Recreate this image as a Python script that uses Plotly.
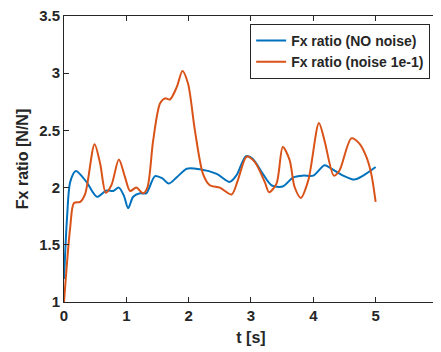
import plotly.graph_objects as go

t_blue = [0.0, 0.05, 0.1, 0.19, 0.36, 0.53, 0.68, 0.79, 0.88, 0.96, 1.03, 1.11, 1.22, 1.32, 1.46, 1.58, 1.68, 1.81, 1.97, 2.18, 2.45, 2.66, 2.77, 2.92, 3.03, 3.19, 3.33, 3.51, 3.68, 3.84, 4.0, 4.18, 4.29, 4.48, 4.66, 4.8, 5.0]
y_blue = [1.2, 1.75, 2.05, 2.145, 2.05, 1.92, 1.975, 1.97, 2.0, 1.93, 1.82, 1.92, 1.95, 1.95, 2.1, 2.08, 2.035, 2.09, 2.165, 2.16, 2.12, 2.05, 2.11, 2.275, 2.25, 2.12, 2.02, 2.01, 2.09, 2.105, 2.105, 2.195, 2.165, 2.105, 2.07, 2.105, 2.18]

t_orange = [0.0, 0.1, 0.16, 0.26, 0.34, 0.49, 0.58, 0.67, 0.76, 0.88, 0.98, 1.06, 1.16, 1.27, 1.34, 1.43, 1.54, 1.62, 1.7, 1.81, 1.9, 1.99, 2.1, 2.23, 2.34, 2.5, 2.69, 2.79, 2.93, 3.06, 3.22, 3.29, 3.41, 3.51, 3.62, 3.7, 3.8, 3.92, 4.09, 4.18, 4.33, 4.42, 4.61, 4.74, 4.85, 4.93, 5.0]
y_orange = [1.0, 1.655, 1.865, 1.875, 1.945, 2.38, 2.21, 1.955, 2.02, 2.245, 2.09, 1.97, 2.0, 1.95, 2.005, 2.41, 2.735, 2.78, 2.77, 2.88, 3.02, 2.91, 2.5, 2.12, 2.02, 2.0, 1.94, 2.065, 2.27, 2.225, 2.05, 1.96, 2.035, 2.355, 2.24, 2.005, 1.91, 2.065, 2.565, 2.41, 2.105, 2.15, 2.43, 2.385, 2.27, 2.12, 1.875]

x_ticks = [0, 1, 2, 3, 4, 5, 6]
y_ticks = [1, 1.5, 2, 2.5, 3, 3.5]

font = dict(family="Liberation Sans, Arial", size=15, color="#262626", weight="bold")

fig = go.Figure()
fig.add_trace(go.Scatter(x=t_blue, y=y_blue, mode="lines", name="Fx ratio (NO noise)",
                         line=dict(color="#0072BD", width=2, shape="spline", smoothing=0.8)))
fig.add_trace(go.Scatter(x=t_orange, y=y_orange, mode="lines", name="Fx ratio (noise 1e-1)",
                         line=dict(color="#D95319", width=2, shape="spline", smoothing=0.8)))

axis_common = dict(showgrid=False, zeroline=False, showline=True, linecolor="#262626", linewidth=1,
                   mirror="ticks", ticks="inside", ticklen=5, tickcolor="#262626", tickfont=font,
                   automargin=False, ticklabeloverflow="allow")

fig.update_xaxes(range=[0, 6.0005], tickvals=x_ticks, ticktext=[str(v) for v in x_ticks],
                 title=dict(text="t [s]", font=dict(font, size=16), standoff=8), **axis_common)
fig.update_yaxes(range=[1, 3.5], tickvals=y_ticks, ticktext=[f"{v:g}" for v in y_ticks],
                 title=dict(text="Fx ratio [N/N]", font=dict(font, size=16), standoff=6), **axis_common)

fig.update_layout(
    width=433, height=344,
    margin=dict(l=56, r=3, t=8, b=50),
    paper_bgcolor="white", plot_bgcolor="white",
    font=font,
    showlegend=True,
    legend=dict(x=0.979, y=0.972, xanchor="right", yanchor="top",
                bordercolor="#262626", borderwidth=1, bgcolor="white",
                font=dict(font, size=14), tracegroupgap=0),
)

fig.write_html("out.html")
